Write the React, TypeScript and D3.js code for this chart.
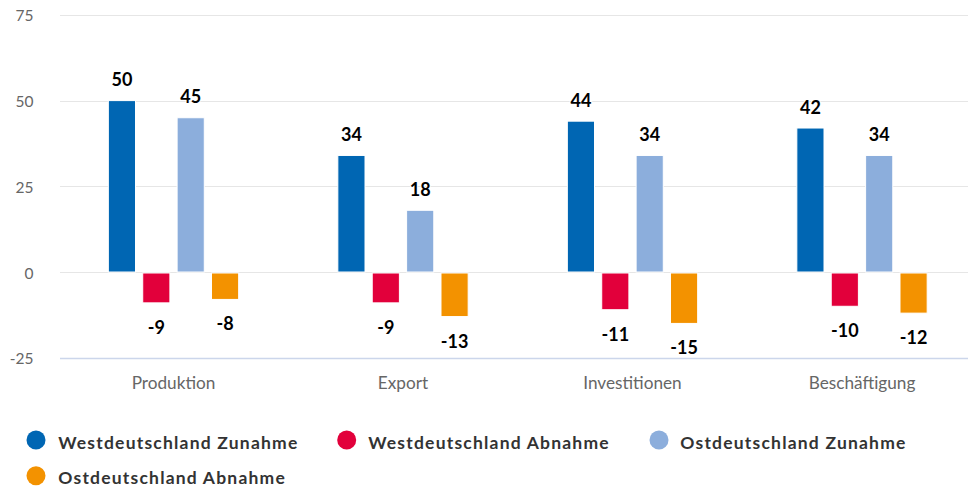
import React from "react";
import * as d3 from "d3";

const categories = ["Produktion", "Export", "Investitionen", "Beschäftigung"];
const seriesNames = [
  "Westdeutschland Zunahme",
  "Westdeutschland Abnahme",
  "Ostdeutschland Zunahme",
  "Ostdeutschland Abnahme",
];
const westZunahme = [50, 34, 44, 42];
const westAbnahme = [-9, -9, -11, -10];
const ostZunahme = [45, 18, 34, 34];
const ostAbnahme = [-8, -13, -15, -12];
const yTicks = [-25, 0, 25, 50, 75];
const colors = ["#0066b3", "#e2003b", "#8caedc", "#f39200"];

const seriesValues = [westZunahme, westAbnahme, ostZunahme, ostAbnahme];

const W = 968;
const H = 488;
const FONT = "Lato, 'Source Sans Pro', sans-serif";

export default function App() {
  const y = d3.scaleLinear().domain([-25, 75]).range([357.7, 14.9]);
  const x = d3.scaleBand<string>().domain(categories).range([58.75, 976.75]).paddingInner(0).paddingOuter(0);
  const inner = d3
    .scaleBand<string>()
    .domain(seriesNames)
    .range([-68.6, 68.6])
    .paddingInner(0.21)
    .paddingOuter(0.1);

  const legendPos = [
    { cx: 36, cy: 440, tx: 58.3, ty: 449 },
    { cx: 346.7, cy: 440, tx: 368.3, ty: 449 },
    { cx: 659, cy: 440, tx: 680.3, ty: 449 },
    { cx: 36, cy: 475.7, tx: 58.3, ty: 483.5 },
  ];

  return (
    <svg
      width={W}
      height={H}
      style={{ position: "absolute", left: 0, top: 0, background: "#fff" }}
      fontFamily={FONT}
    >
      <rect x={0} y={0} width={W} height={H} fill="#fff" />
      {yTicks.map((t) => (
        <g key={t}>
          <line
            x1={60}
            x2={W}
            y1={Math.round(y(t)) + 0.5}
            y2={Math.round(y(t)) + 0.5}
            stroke={t === -25 ? "#ccd6eb" : "#e6e6e6"}
            strokeWidth={t === -25 ? 1.5 : 1}
          />
          <text x={33.5} y={y(t) + 6.5} textAnchor="end" fontSize={15.5} fill="#666">
            {t}
          </text>
        </g>
      ))}
      {categories.map((c) => (
        <text
          key={c}
          x={(x(c) as number) + x.bandwidth() / 2}
          y={389}
          textAnchor="middle"
          fontSize={17.2}
          fill="#666"
        >
          {c}
        </text>
      ))}
      {categories.map((c, ci) => {
        const cx = (x(c) as number) + x.bandwidth() / 2;
        return seriesNames.map((s, si) => {
          const v = seriesValues[si][ci];
          const bx = cx + (inner(s) as number);
          const bw = inner.bandwidth();
          const top = v >= 0 ? y(v) : y(0) + 1;
          const bottom = v >= 0 ? y(0) : y(v);
          return (
            <g key={c + s}>
              <rect
                x={bx}
                y={top}
                width={bw}
                height={bottom - top}
                fill={colors[si]}
                stroke="#fff"
                strokeWidth={1}
              />
              <text
                x={bx + bw / 2}
                y={v >= 0 ? y(v) - 14.5 : y(v) + 31}
                textAnchor="middle"
                fontSize={18}
                fontWeight={700}
                fill="#000"
                stroke="#fff"
                strokeWidth={2}
                paintOrder="stroke"
              >
                {v}
              </text>
            </g>
          );
        });
      })}
      {seriesNames.map((s, i) => (
        <g key={s}>
          <circle cx={legendPos[i].cx} cy={legendPos[i].cy} r={9.5} fill={colors[i]} />
          <text
            x={legendPos[i].tx}
            y={legendPos[i].ty}
            fontSize={17.5}
            fontWeight={700}
            fill="#333"
            letterSpacing={1.2}
          >
            {s}
          </text>
        </g>
      ))}
    </svg>
  );
}
